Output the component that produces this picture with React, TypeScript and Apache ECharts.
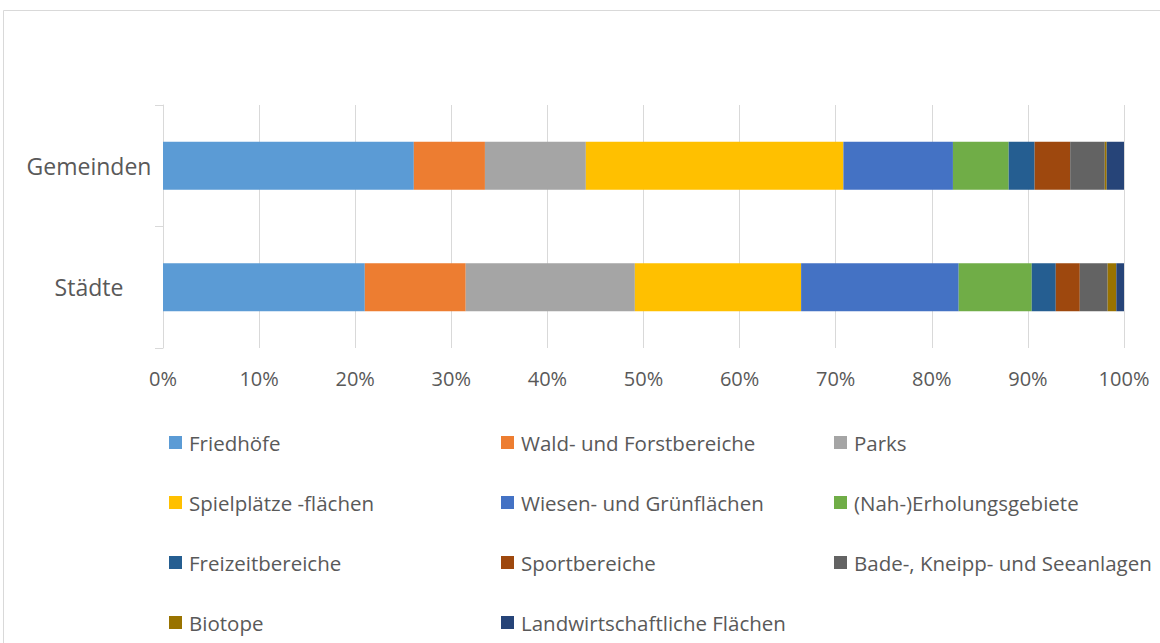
import React, { useEffect, useRef } from "react";
import * as echarts from "echarts";

const categories = ["Städte", "Gemeinden"];
const seriesNames = [
  "Friedhöfe",
  "Wald- und Forstbereiche",
  "Parks",
  "Spielplätze -flächen",
  "Wiesen- und Grünflächen",
  "(Nah-)Erholungsgebiete",
  "Freizeitbereiche",
  "Sportbereiche",
  "Bade-, Kneipp- und Seeanlagen",
  "Biotope",
  "Landwirtschaftliche Flächen",
];
// values in percent, order: [Städte, Gemeinden]
const friedhoefe = [21.0, 26.1];
const wald = [10.5, 7.4];
const parks = [17.6, 10.5];
const spielplaetze = [17.3, 26.8];
const wiesen = [16.4, 11.4];
const erholung = [7.6, 5.8];
const freizeit = [2.5, 2.7];
const sport = [2.5, 3.7];
const bade = [2.9, 3.6];
const biotope = [0.9, 0.2];
const landwirtschaft = [0.8, 1.8];
const seriesValues = [
  friedhoefe, wald, parks, spielplaetze, wiesen, erholung,
  freizeit, sport, bade, biotope, landwirtschaft,
];
const colors = [
  "#5B9BD5", "#ED7D31", "#A5A5A5", "#FFC000", "#4472C4", "#70AD47",
  "#255E91", "#9E480E", "#636363", "#997300", "#264478",
];
const xTicks = { min: 0, max: 100, interval: 10 };

const legendColumns = [
  [0, 3, 6, 9],
  [1, 4, 7, 10],
  [2, 5, 8],
];
const legendLefts = [169, 501, 834];

export default function App() {
  const ref = useRef<HTMLDivElement>(null);
  useEffect(() => {
    if (!ref.current) return;
    const chart = echarts.init(ref.current, undefined, { renderer: "svg" });
    const font = "'Open Sans', sans-serif";
    const textColor = "#595959";
    chart.setOption({
      animation: false,
      color: colors,
      textStyle: { fontFamily: font },
      graphic: [
        {
          type: "rect",
          shape: { x: 3.5, y: 10.5, width: 1200, height: 700 },
          style: { fill: "none", stroke: "#d9d9d9", lineWidth: 1 },
          silent: true,
        },
      ],
      grid: { left: 163, right: 36, top: 105, bottom: 295, containLabel: false },
      xAxis: {
        type: "value",
        min: xTicks.min,
        max: xTicks.max,
        interval: xTicks.interval,
        axisLine: { show: false },
        axisTick: { show: false },
        splitLine: { show: true, lineStyle: { color: "#d9d9d9", width: 1 } },
        axisLabel: {
          formatter: "{value}%",
          color: textColor,
          fontSize: 20,
          fontFamily: font,
          margin: 20,
        },
      },
      yAxis: {
        type: "category",
        data: categories,
        axisLine: { show: true, lineStyle: { color: "#d9d9d9", width: 1 } },
        axisTick: { show: true, length: 8, lineStyle: { color: "#d9d9d9" } },
        axisLabel: {
          color: textColor,
          fontSize: 23,
          fontFamily: font,
          align: "center",
          margin: 74,
        },
      },
      legend: legendColumns.map((col, i) => ({
        orient: "vertical",
        left: legendLefts[i],
        top: 432,
        padding: 0,
        itemWidth: 13,
        itemHeight: 13,
        itemGap: 39,
        icon: "rect",
        selectedMode: false,
        data: col.map((k) => seriesNames[k]),
        textStyle: {
          color: textColor,
          fontSize: 20.5,
          fontFamily: font,
          lineHeight: 20,
          padding: [0, 0, 0, 2],
        },
      })),
      series: seriesNames.map((name, i) => ({
        name,
        type: "bar",
        stack: "total",
        barWidth: 48,
        data: seriesValues[i],
        itemStyle: { color: colors[i] },
      })),
    });
    return () => chart.dispose();
  }, []);
  return (
    <div
      ref={ref}
      style={{ position: "fixed", left: 0, top: 0, width: 1160, height: 643, background: "#fff" }}
    />
  );
}
